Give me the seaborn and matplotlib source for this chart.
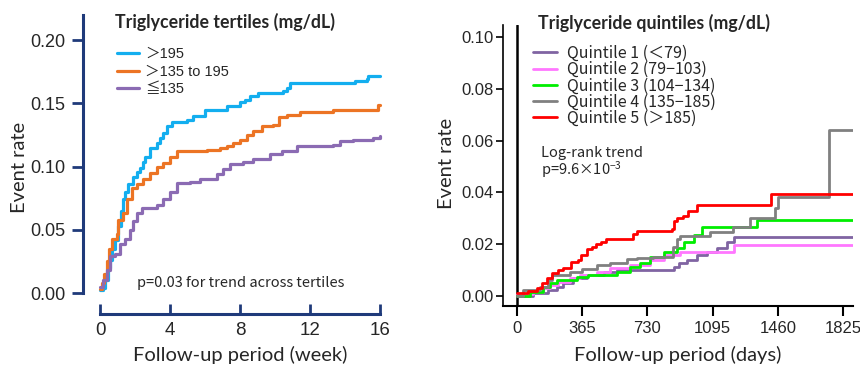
import numpy as np
import pandas as pd
import matplotlib
matplotlib.use('Agg')
import matplotlib.pyplot as plt
from matplotlib import font_manager
from matplotlib.font_manager import FontProperties
import seaborn as sns

# ---- left panel: tertiles (weeks) ----
hi_wk = [0.0, 0.19, 0.3, 0.45, 0.57, 0.7, 0.86, 1.05, 1.2, 1.33, 1.45, 1.62, 1.9, 2.1, 2.29, 2.45, 2.57,
         2.86, 3.24, 3.45, 3.62, 3.81, 4.1, 4.95, 5.33, 6.0, 7.24, 8.0, 8.29, 8.57, 9.05, 10.48, 10.67,
         10.86, 14.57, 15.24, 15.33, 16.0]
hi_rate = [0.002, 0.004, 0.01, 0.02, 0.026, 0.035, 0.042, 0.053, 0.065, 0.074, 0.08, 0.086, 0.092, 0.096,
           0.099, 0.104, 0.108, 0.115, 0.119, 0.123, 0.127, 0.132, 0.135, 0.137, 0.140, 0.145, 0.148, 0.151,
           0.153, 0.156, 0.158, 0.160, 0.162, 0.166, 0.168, 0.169, 0.172, 0.172]

mid_wk = [0.0, 0.1, 0.25, 0.38, 0.5, 0.67, 0.95, 1.05, 1.33, 1.52, 1.81, 2.1, 2.48, 2.86, 3.24, 3.62, 4.0,
          4.38, 6.1, 6.86, 7.24, 7.62, 8.0, 8.38, 8.76, 9.24, 9.9, 10.2, 10.67, 11.43, 13.33, 15.9, 16.0]
mid_rate = [0.003, 0.008, 0.015, 0.025, 0.035, 0.043, 0.047, 0.058, 0.063, 0.074, 0.083, 0.086, 0.090, 0.095,
            0.100, 0.103, 0.108, 0.112, 0.113, 0.115, 0.116, 0.119, 0.121, 0.125, 0.128, 0.132, 0.133, 0.139,
            0.141, 0.143, 0.145, 0.149, 0.149]

lo_wk = [0.0, 0.19, 0.38, 0.57, 0.86, 1.14, 1.43, 1.71, 1.9, 2.1, 2.38, 3.24, 3.62, 4.0, 4.38, 5.14, 5.71,
         6.67, 7.05, 7.43, 8.19, 8.76, 9.71, 10.38, 11.24, 13.33, 13.71, 14.48, 15.6, 16.0]
lo_rate = [0.005, 0.010, 0.018, 0.029, 0.031, 0.039, 0.043, 0.050, 0.057, 0.063, 0.067, 0.070, 0.074, 0.080,
           0.087, 0.088, 0.090, 0.094, 0.098, 0.102, 0.104, 0.106, 0.110, 0.112, 0.116, 0.117, 0.120, 0.121,
           0.123, 0.124]

tert_labels = ['＞195', '＞135 to 195', '≦135']
tert_colors = ['#13AEEF', '#EC7424', '#8B6BB3']

# ---- right panel: quintiles (days) ----
q1_day = [0, 92, 176, 223, 260, 316, 391, 485, 560, 878, 906, 953, 1009, 1065, 1121, 1177, 1215, 1880]
q1_rate = [0.000, 0.001, 0.0023, 0.0036, 0.0049, 0.0068, 0.0081, 0.0094, 0.0100, 0.0113, 0.0126, 0.0139,
           0.0158, 0.0171, 0.0184, 0.021, 0.0229, 0.0229]

q2_day = [0, 92, 148, 185, 232, 298, 354, 447, 522, 635, 747, 822, 912, 1215, 1880]
q2_rate = [0.0008, 0.0017, 0.003, 0.0042, 0.0055, 0.0068, 0.0081, 0.0094, 0.0107, 0.012, 0.0139, 0.0158,
           0.0168, 0.0197, 0.0197]

q3_day = [0, 73, 148, 185, 223, 335, 400, 560, 635, 690, 747, 822, 897, 934, 990, 1037, 1346, 1880]
q3_rate = [0.000, 0.0017, 0.0033, 0.0049, 0.006, 0.0072, 0.0081, 0.0094, 0.0113, 0.0129, 0.0152, 0.0171,
           0.0184, 0.021, 0.0235, 0.0268, 0.0293, 0.0293]

q4_day = [0, 36, 129, 176, 195, 298, 363, 446, 521, 614, 670, 764, 875, 894, 912, 1080, 1211, 1304, 1444,
          1463, 1745, 1880]
q4_rate = [0.000, 0.0023, 0.0036, 0.006, 0.0081, 0.0094, 0.0103, 0.012, 0.0126, 0.0141, 0.0145, 0.0152,
           0.019, 0.022, 0.0232, 0.0248, 0.0267, 0.030, 0.0338, 0.0384, 0.064, 0.064]

q5_day = [0, 60, 110, 140, 170, 195, 230, 260, 300, 340, 360, 390, 420, 440, 470, 500, 650, 670, 870, 880,
          895, 930, 960, 1010, 1420, 1880]
q5_rate = [0.001, 0.002, 0.003, 0.005, 0.007, 0.009, 0.010, 0.011, 0.013, 0.014, 0.016, 0.018, 0.019, 0.020,
           0.021, 0.022, 0.024, 0.025, 0.026, 0.029, 0.030, 0.031, 0.033, 0.035, 0.0395, 0.0395]

quint_labels = ['Quintile 1 (＜79)', 'Quintile 2 (79−103)', 'Quintile 3 (104−134)',
                'Quintile 4 (135−185)', 'Quintile 5 (＞185)']
quint_colors = ['#8064A2', '#FF77FF', '#00EE00', '#808080', '#FF0000']

week_ticks = [0, 4, 8, 12, 16]
day_ticks = [0, 365, 730, 1095, 1460, 1825]

sns.set_style('white')
names = {f.name for f in font_manager.fontManager.ttflist}
narrow = 'Liberation Sans Narrow' if 'Liberation Sans Narrow' in names else 'Liberation Sans'
plt.rcParams['font.family'] = ['Liberation Sans', 'Noto Sans CJK JP', 'DejaVu Sans']
plt.rcParams['mathtext.default'] = 'regular'

navy = '#1F3A7A'
jp = ['Noto Sans CJK JP', 'DejaVu Sans']
leg_font = FontProperties(family=['Liberation Sans', 'Noto Sans CJK JP', 'DejaVu Sans'], size=10.5)

fig = plt.figure(figsize=(8.6, 3.65), dpi=100)
ax1 = fig.add_axes([100 / 860, 72 / 365, 280 / 860, 278 / 365])
ax2 = fig.add_axes([503 / 860, 59 / 365, 350 / 860, 281 / 365])

# left panel
for wk, rate, lab, col in zip([hi_wk, mid_wk, lo_wk], [hi_rate, mid_rate, lo_rate], tert_labels, tert_colors):
    sns.lineplot(x=wk, y=rate, ax=ax1, drawstyle='steps-post', color=col, lw=2.3,
                 label=lab, clip_on=False)
ax1.set_xlim(0, 16)
ax1.set_ylim(0, 0.22)
ax1.set_xticks(week_ticks)
ax1.set_yticks([0, 0.05, 0.10, 0.15, 0.20])
ax1.set_yticklabels(['0.00', '0.05', '0.10', '0.15', '0.20'])
for s in ['top', 'right']:
    ax1.spines[s].set_visible(False)
ax1.spines['left'].set_position(('outward', 12))
ax1.spines['bottom'].set_position(('outward', 15))
for s in ['left', 'bottom']:
    ax1.spines[s].set_color(navy)
    ax1.spines[s].set_linewidth(2.2)
ax1.tick_params(axis='y', left=True, direction='out', length=8, width=2, color=navy, labelsize=13, pad=5)
ax1.tick_params(axis='x', bottom=True, direction='in', length=7, width=2, color=navy, labelsize=13.5, pad=6)
ax1.set_xlabel('Follow-up period (week)', family='Lato', fontsize=14.5)
ax1.set_ylabel('Event rate', family='Lato', fontsize=14.5)
ax1.xaxis.label.set_va('center')
ax1.yaxis.label.set_va('center')
ax1.xaxis.set_label_coords(0.5, (293 - 355) / 278)
ax1.yaxis.set_label_coords((20 - 100) / 280, (293 - 167) / 278)
ax1.legend(loc='upper left', bbox_to_anchor=(117 / 860, 1 - 47 / 365), bbox_transform=fig.transFigure,
           frameon=False, prop=leg_font, handlelength=1.5, handletextpad=0.45, labelspacing=0.25,
           borderpad=0, borderaxespad=0)
fig.text(115 / 860, 1 - 22 / 365, 'Triglyceride tertiles (mg/dL)', family='Lato', weight='bold',
         fontsize=12.8, va='center', ha='left')
fig.text(137 / 860, 1 - 283 / 365, 'p=0.03 for trend across tertiles', family=jp, fontsize=10.5,
         va='center', ha='left')

# right panel
qdays = [q1_day, q2_day, q3_day, q4_day, q5_day]
qrates = [q1_rate, q2_rate, q3_rate, q4_rate, q5_rate]
for d, r, lab, col in zip(qdays, qrates, quint_labels, quint_colors):
    sns.lineplot(x=d, y=r, ax=ax2, drawstyle='steps-post', color=col, lw=2, label=lab)
ax2.axvline(0, color='black', lw=1.8, zorder=1)
ax2.set_xlim(-78, 1881)
ax2.set_ylim(-0.00386, 0.1046)
ax2.set_xticks(day_ticks)
ax2.set_yticks([0, 0.02, 0.04, 0.06, 0.08, 0.10])
ax2.set_yticklabels(['0.00', '0.02', '0.04', '0.06', '0.08', '0.10'])
for s in ['top', 'right']:
    ax2.spines[s].set_visible(False)
ax2.spines['left'].set_linewidth(1.2)
ax2.spines['bottom'].set_linewidth(1.5)
for s in ['left', 'bottom']:
    ax2.spines[s].set_color('black')
ax2.tick_params(axis='y', left=True, direction='out', length=5, width=1.2, color='black', labelsize=12, pad=2)
ax2.tick_params(axis='x', bottom=True, direction='out', length=7, width=1.5, color='black', labelsize=12, pad=4)
for t in ax2.get_xticklabels() + ax2.get_yticklabels():
    t.set_family(narrow)
ax2.set_xlabel('Follow-up period (days)', family='Lato', fontsize=14.5)
ax2.set_ylabel('Event rate', family='Lato', fontsize=14.5)
ax2.xaxis.label.set_va('center')
ax2.yaxis.label.set_va('center')
ax2.xaxis.set_label_coords((678 - 503) / 350, (306 - 355) / 281)
ax2.yaxis.set_label_coords((447 - 503) / 350, (306 - 163) / 281)
ax2.legend(loc='upper left', bbox_to_anchor=(533 / 860, 1 - 45 / 365), bbox_transform=fig.transFigure,
           frameon=False, prop=FontProperties(family=jp, size=11.5), handlelength=1.5, handletextpad=0.65,
           labelspacing=-0.05, borderpad=0, borderaxespad=0)
fig.text(538 / 860, 1 - 23 / 365, 'Triglyceride quintiles (mg/dL)', family='Lato', weight='bold',
         fontsize=12.8, va='center', ha='left')
fig.text(541 / 860, 1 - 163 / 365, 'Log-rank trend\np=9.6×10$^{-3}$', family=jp,
         fontsize=10.5, va='center', ha='left', linespacing=1.0)

fig.savefig('out.png', dpi=100)
